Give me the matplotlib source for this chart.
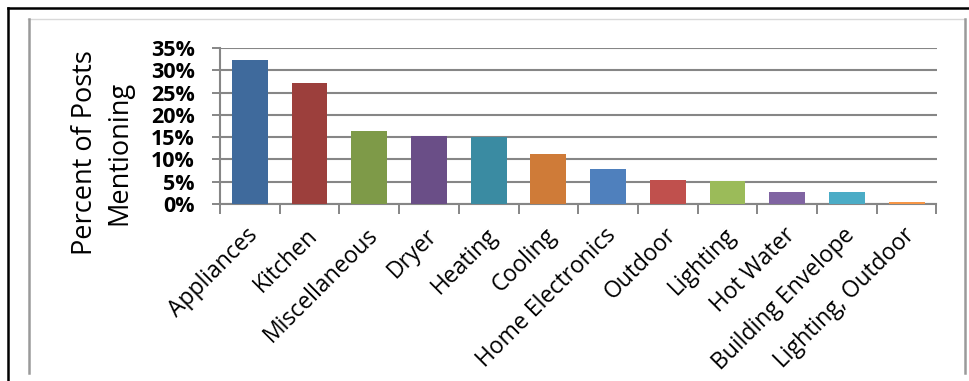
import matplotlib.pyplot as plt
from matplotlib.lines import Line2D
from matplotlib.ticker import FuncFormatter

# categories and share of posts mentioning each one
categories = ['Appliances', 'Kitchen', 'Miscellaneous', 'Dryer', 'Heating', 'Cooling',
              'Home Electronics', 'Outdoor', 'Lighting', 'Hot Water',
              'Building Envelope', 'Lighting, Outdoor']
shares = [0.323, 0.271, 0.164, 0.153, 0.150, 0.112, 0.078, 0.054, 0.051, 0.026, 0.026, 0.004]
colors = ['#3F6A9C', '#9C3F3C', '#7E9A48', '#6A4E87', '#3A8BA2', '#CF7B38',
          '#4F80BD', '#C0504D', '#9BBB59', '#8064A2', '#4BACC6', '#F79646']
yticks = [0, 0.05, 0.10, 0.15, 0.20, 0.25, 0.30, 0.35]

plt.rcParams['font.family'] = ['Open Sans', 'DejaVu Sans']
W, H = 969, 381
fig = plt.figure(figsize=(W / 100, H / 100), dpi=100)

# frame lines of the original document picture (figure pixel coords)
def hline(y, x0, x1, c, lw):
    fig.add_artist(Line2D([x0 / W, x1 / W], [1 - y / H, 1 - y / H], color=c, lw=lw))

def vline(x, y0, y1, c, lw):
    fig.add_artist(Line2D([x / W, x / W], [1 - y0 / H, 1 - y1 / H], color=c, lw=lw))

hline(8, 8, W, 'black', 1.8)
vline(8, 8, H, 'black', 1.8)
hline(19, 28, 965, '#d9d9d9', 1.0)
vline(29, 19, 373, '#9a9a9a', 1.8)
vline(965, 19, 373, '#9a9a9a', 1.8)

left, right, bottom, top = 220, 936.5, 204, 48
ax = fig.add_axes([left / W, 1 - bottom / H, (right - left) / W, (bottom - top) / H])

x = range(len(categories))
ax.bar(x, shares, width=0.6, color=colors, zorder=3)

ax.set_xlim(-0.5, len(categories) - 0.5)
ax.set_ylim(0, 0.35)
ax.set_yticks(yticks)
ax.yaxis.set_major_formatter(FuncFormatter(lambda v, p: '{:.0f}%'.format(v * 100)))
ax.grid(axis='y', color='#868686', lw=1.5, zorder=0)

# category boundaries carry the x tick marks, labels sit just right of the centres
ax.set_xticks([i - 0.5 for i in range(len(categories) + 1)])
ax.set_xticklabels([])
ax.set_xticks([i + 0.08 for i in x], minor=True)
ax.set_xticklabels(categories, minor=True, rotation=45, ha='right', va='center',
                   rotation_mode='anchor', fontsize=16.5)
ax.tick_params(axis='x', which='minor', length=0, pad=20)
ax.tick_params(axis='x', which='major', length=7, width=1.4, color='#868686')
ax.tick_params(axis='y', length=6, width=1.4, color='#868686', pad=12)
for lab in ax.get_yticklabels():
    lab.set_fontweight('bold')
    lab.set_fontsize(15.5)

for s in ['top', 'right']:
    ax.spines[s].set_visible(False)
for s in ['left', 'bottom']:
    ax.spines[s].set_color('#868686')
    ax.spines[s].set_linewidth(1.5)

fig.text(102 / W, 1 - 153 / H, 'Percent of Posts\nMentioning', rotation=90,
         ha='center', va='center', fontsize=19.5, linespacing=1.3)

fig.savefig('out.png', dpi=100)
